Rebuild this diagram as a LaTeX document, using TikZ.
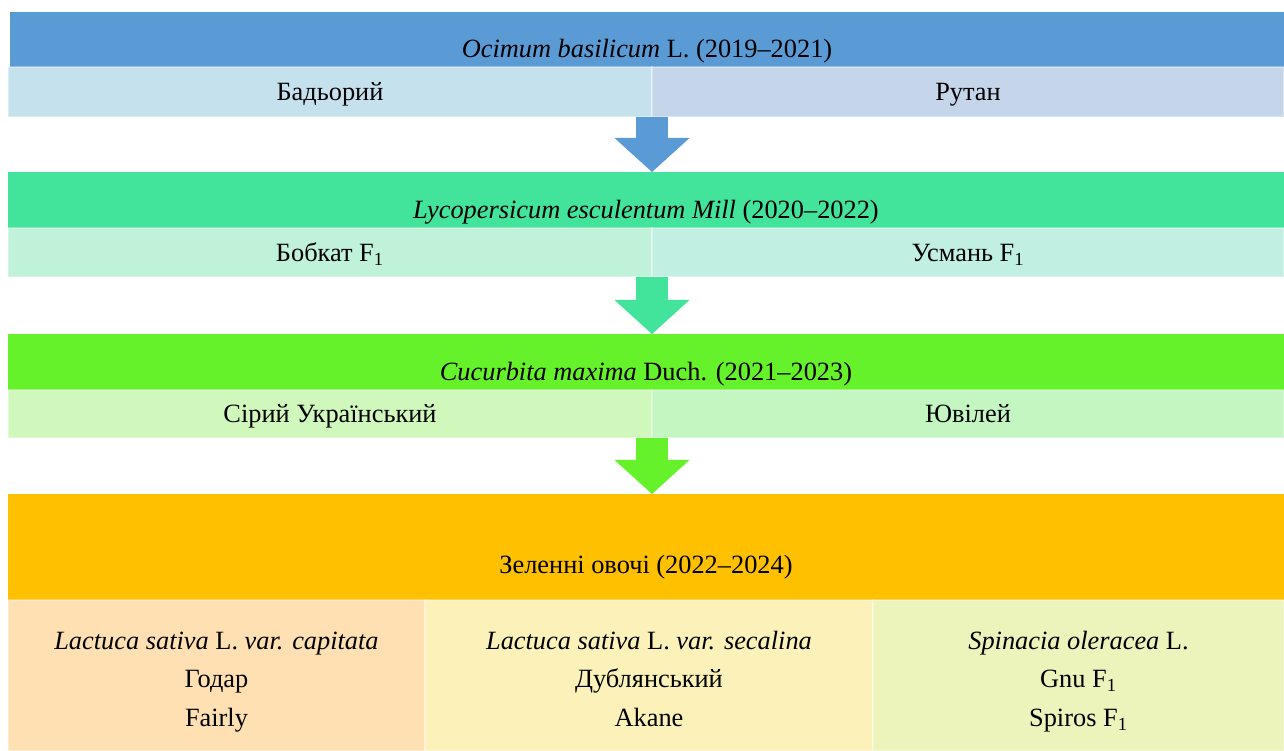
\documentclass[tikz,border=0pt]{standalone}
\usepackage{fontspec}
\setmainfont{Liberation Serif}
\usepackage{tikz}
\usetikzlibrary{positioning,arrows.meta}
\usepackage{xcolor}

\definecolor{headblue}{HTML}{5B9BD5}
\definecolor{subblueA}{HTML}{C6E1EE}
\definecolor{subblueB}{HTML}{C5D6EB}
\definecolor{headgreen}{HTML}{42E39B}
\definecolor{subgreenA}{HTML}{BFF2D9}
\definecolor{subgreenB}{HTML}{C1F0E2}
\definecolor{headlime}{HTML}{66F22A}
\definecolor{sublimeA}{HTML}{D0F8BD}
\definecolor{sublimeB}{HTML}{C3F6C1}
\definecolor{headorange}{HTML}{FFC000}
\definecolor{cellpeach}{HTML}{FFE0B2}
\definecolor{cellyellow}{HTML}{FCF2B9}
\definecolor{cellolive}{HTML}{ECF3BB}

\tikzset{
  box/.style={rectangle, anchor=north west, inner sep=0pt, outer sep=0pt},
  head/.style={box, minimum width=25.52cm, minimum height=1.12cm, text height=25pt, text depth=4pt},
  sub/.style={box, minimum width=12.88cm, text height=14pt, text depth=4pt, draw=white, draw opacity=0.35, line width=0.6pt},
  cell/.style={box, minimum height=3.02cm, align=center, text height=58pt, text depth=0pt, draw=white, draw opacity=0.35, line width=0.6pt},
  flow/.style={line width=0.64cm, -{Triangle[width=1.5cm, length=0.68cm, line width=0pt]}}
}

\begin{document}
\begin{tikzpicture}[font=\fontsize{15}{21.9}\selectfont]
  \path[fill=white] (0,0) rectangle (25.68,-15.02);
  \useasboundingbox (0,0) rectangle (25.68,-15.02);

  \node[head, fill=headblue, minimum width=25.48cm, minimum height=1.10cm, text height=24pt](ocimum) at (0.20,-0.24){\textit{Ocimum basilicum} L. (2019–2021)};
  \node[sub, fill=subblueA, minimum height=1.00cm](badoryi) at (0.16,-1.34){Бадьорий};
  \node[sub, fill=subblueB, minimum height=1.00cm, minimum width=12.64cm](rutan) at (13.04,-1.34){Рутан};

  \node[head, fill=headgreen](lyco) at (0.16,-3.44){\textit{Lycopersicum esculentum Mill} (2020–2022)};
  \node[sub, fill=subgreenA, minimum height=0.98cm](bobkat) at (0.16,-4.56){Бобкат F\textsubscript{1}};
  \node[sub, fill=subgreenB, minimum height=0.98cm, minimum width=12.64cm](usman) at (13.04,-4.56){Усмань F\textsubscript{1}};

  \node[head, fill=headlime](cucurb) at (0.16,-6.68){\textit{Cucurbita maxima} Duch. (2021–2023)};
  \node[sub, fill=sublimeA, minimum height=0.96cm](siryi) at (0.16,-7.80){Сірий Український};
  \node[sub, fill=sublimeB, minimum height=0.96cm, minimum width=12.64cm](yuvilei) at (13.04,-7.80){Ювілей};

  \node[head, fill=headorange, minimum height=2.12cm, text height=33.6pt](greens) at (0.16,-9.88){Зеленні овочі (2022–2024)};
  \node[cell, fill=cellpeach, minimum width=8.34cm](capitata) at (0.16,-12.00){\textit{Lactuca sativa} L. \textit{var. capitata}\\Годар\\Fairly};
  \node[cell, fill=cellyellow, minimum width=8.96cm](secalina) at (8.50,-12.00){\textit{Lactuca sativa} L. \textit{var. secalina}\\Дублянський\\Akane};
  \node[cell, fill=cellolive, minimum width=8.22cm](spinacia) at (17.46,-12.00){\textit{Spinacia oleracea} L.\\Gnu F\textsubscript{1}\\Spiros F\textsubscript{1}};

  \draw[flow, headblue] (badoryi.south east) -- (badoryi.south east |- lyco.north);
  \draw[flow, headgreen] (bobkat.south east) -- (bobkat.south east |- cucurb.north);
  \draw[flow, headlime] (siryi.south east) -- (siryi.south east |- greens.north);
\end{tikzpicture}
\end{document}
